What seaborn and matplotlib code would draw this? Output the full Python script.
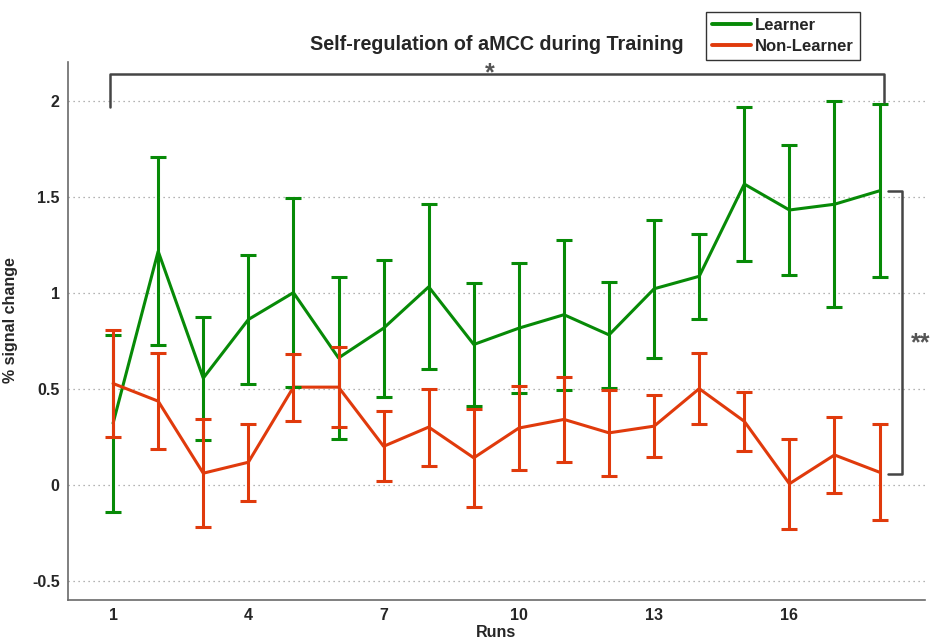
import matplotlib
matplotlib.use("Agg")
import matplotlib.pyplot as plt
import numpy as np
import pandas as pd
import seaborn as sns

# Mean % signal change per training run and its error (half-width of bar)
runs = list(range(1, 19))
learner_mean = [0.32, 1.215, 0.555, 0.86, 1.00, 0.66, 0.815, 1.03, 0.73,
                0.815, 0.885, 0.78, 1.02, 1.085, 1.565, 1.43, 1.46, 1.53]
learner_err = [0.46, 0.49, 0.32, 0.335, 0.49, 0.42, 0.357, 0.43, 0.32,
               0.34, 0.39, 0.275, 0.36, 0.22, 0.40, 0.34, 0.535, 0.45]
nonlearner_mean = [0.527, 0.435, 0.06, 0.117, 0.508, 0.508, 0.20, 0.30, 0.14,
                   0.295, 0.34, 0.27, 0.305, 0.50, 0.33, 0.005, 0.155, 0.065]
nonlearner_err = [0.277, 0.25, 0.28, 0.20, 0.175, 0.21, 0.183, 0.20, 0.255,
                  0.22, 0.222, 0.222, 0.16, 0.185, 0.155, 0.233, 0.20, 0.25]
groups = ["Learner", "Non-Learner"]
colors = {"Learner": "#078a07", "Non-Learner": "#e03a0c"}
xticks = [1, 4, 7, 10, 13, 16]
yticks = [-0.5, 0, 0.5, 1, 1.5, 2]

sns.set_theme(style="white")
plt.rcParams["font.family"] = ["Liberation Sans", "DejaVu Sans"]
plt.rcParams["font.weight"] = "bold"

df = pd.concat([
    pd.DataFrame({"Run": runs, "Signal": learner_mean, "Err": learner_err, "Group": groups[0]}),
    pd.DataFrame({"Run": runs, "Signal": nonlearner_mean, "Err": nonlearner_err, "Group": groups[1]}),
], ignore_index=True)

fig = plt.figure(figsize=(9.34, 6.4), dpi=100)
ax = fig.add_axes([0.0728, 0.0625, 0.9172, 0.8405])

# horizontal dotted grid behind the data
for yv in yticks:
    ax.axhline(yv, color="#9a9a9a", lw=0.9, ls=(0, (1, 3)), zorder=0)

sns.lineplot(data=df, x="Run", y="Signal", hue="Group", palette=colors,
             hue_order=groups, lw=2.2, ax=ax, legend=False, zorder=3)
for g in groups:
    sub = df[df["Group"] == g]
    ax.errorbar(sub["Run"], sub["Signal"], yerr=sub["Err"], fmt="none",
                ecolor=colors[g], elinewidth=2.2, capsize=5.8, capthick=2.2,
                zorder=3)

ax.set_xlim(0, 19)
ax.set_ylim(-0.6, 2.2)
ax.set_xticks(xticks)
ax.set_yticks(yticks)
ax.set_xticklabels([str(t) for t in xticks])
ax.set_yticklabels(["-0.5", "0", "0.5", "1", "1.5", "2"])
ax.tick_params(axis="both", direction="in", length=6, width=1, color="#555555",
               labelsize=11.5, pad=6)
for lab in ax.get_xticklabels() + ax.get_yticklabels():
    lab.set_fontweight("bold")
for side in ["top", "right"]:
    ax.spines[side].set_visible(False)
for side in ["left", "bottom"]:
    ax.spines[side].set_color("#6a6a6a")
    ax.spines[side].set_linewidth(1.2)

ax.set_xlabel("Runs", fontsize=11.5, fontweight="bold", labelpad=1)
ax.set_ylabel("% signal change", fontsize=11.5, fontweight="bold", labelpad=9)
ax.yaxis.set_label_coords(-0.058, 0.52)
ax.set_title("Self-regulation of aMCC during Training", fontsize=14.2,
             fontweight="bold", pad=9)

# significance bracket across runs (Learner, first vs last)
bc = "#454545"
bx0, bx1 = runs[0] - 0.07, runs[-1] + 0.09
btop = 2.136
ax.plot([bx0, bx0, bx1, bx1], [1.968, btop, btop, 1.993], color=bc, lw=1.8,
        clip_on=False, zorder=4)
ax.text((bx0 + bx1) / 2 - 0.15, btop + 0.005, "*", ha="center", va="center",
        fontsize=18, color="#555555", fontweight="bold")

# group difference bracket at the last run
rx0, rx1 = runs[-1] + 0.18, runs[-1] + 0.49
ax.plot([rx0, rx1, rx1, rx0],
        [learner_mean[-1], learner_mean[-1], nonlearner_mean[-1] - 0.01, nonlearner_mean[-1] - 0.01],
        color=bc, lw=1.8, clip_on=False, zorder=4)
ax.text(rx1 + 0.2, (learner_mean[-1] + nonlearner_mean[-1]) / 2 - 0.06, "**",
        ha="left", va="center", fontsize=18, color="#555555",
        fontweight="bold", clip_on=False)

handles = [plt.Line2D([], [], color=colors[g], lw=2.8) for g in groups]
leg = fig.legend(handles, groups, loc="upper left",
                 bbox_to_anchor=(706 / 934, 1 - 12 / 640), frameon=True,
                 fancybox=False, edgecolor="black", fontsize=12,
                 handlelength=2.35, handletextpad=0.25, borderpad=0.35,
                 labelspacing=0.35, borderaxespad=0)
leg.get_frame().set_linewidth(1.0)
for t in leg.get_texts():
    t.set_fontweight("bold")

fig.savefig("out.png", dpi=100)
